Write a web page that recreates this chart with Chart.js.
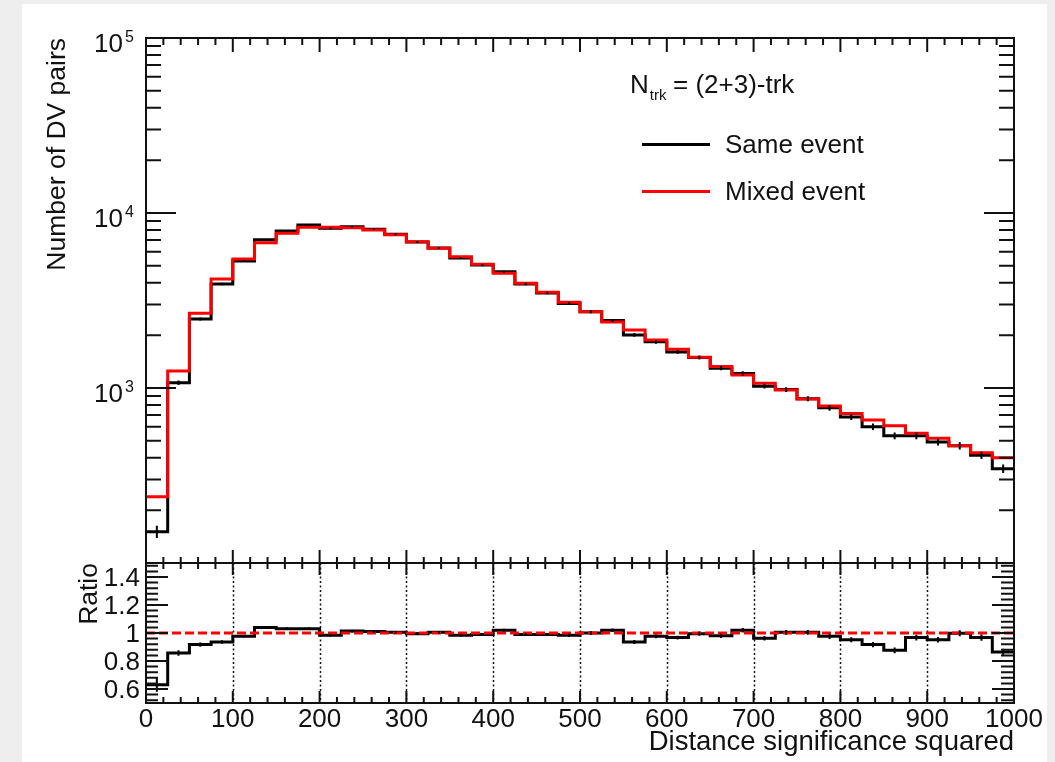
<!DOCTYPE html>
<html>
<head>
<meta charset="utf-8">
<script src="https://cdn.jsdelivr.net/npm/chart.js@4.4.0/dist/chart.umd.min.js"></script>
<style>
html,body{margin:0;padding:0;background:#eeeeee;width:1055px;height:762px;overflow:hidden;}
#paper{position:absolute;left:22px;top:4px;width:1025px;height:758px;background:#ffffff;}
canvas{position:absolute;left:0;}
#c1{top:0;}
#c2{top:540px;}
</style>
</head>
<body>
<div id="paper"></div>
<canvas id="c1" width="1055" height="600"></canvas>
<canvas id="c2" width="1055" height="222"></canvas>
<script>
// ---------------- data ----------------
const binEdges = [0,25,50,75,100,125,150,175,200,225,250,275,300,325,350,375,400,425,450,475,
                  500,525,550,575,600,625,650,675,700,725,750,775,800,825,850,875,900,925,950,975];
const xMax = 1000;
const sameEvent = [151,1072,2477,3930,5320,7025,7890,8530,8170,8350,8080,7550,6830,6310,5530,5040,4610,3930,3490,3040,
                   2730,2430,2010,1835,1608,1493,1298,1210,1024,980,869,770,682,601,533,533,491,467,413,346];
const mixedEvent = [239,1250,2673,4198,5458,6761,7656,8280,8300,8230,8000,7500,6860,6281,5624,5090,4522,3966,3526,3090,
                    2730,2383,2145,1880,1663,1500,1325,1186,1064,975,865,789,716,656,609,551,516,468,427,400];
const sameErr = [12,33,50,62,73,84,89,92,90,91,90,87,83,80,74,71,68,63,59,55,
                 52,49,45,43,40,39,36,35,32,31,29,28,26,25,23,23,22,22,20,19];
const ratio = [0.63,0.857,0.917,0.936,0.976,1.039,1.031,1.031,0.984,1.014,1.01,1.005,0.995,1.005,0.984,0.99,1.02,0.99,0.99,0.984,
               1.0,1.02,0.936,0.976,0.967,0.995,0.98,1.02,0.962,1.005,1.005,0.976,0.952,0.917,0.876,0.967,0.952,0.998,0.967,0.864];
const ratioErr = [0.05,0.02,0.015,0.012,0.01,0.01,0.01,0.01,0.01,0.01,0.01,0.01,0.01,0.01,0.01,0.01,0.01,0.01,0.01,0.012,
                  0.012,0.012,0.014,0.014,0.014,0.015,0.015,0.016,0.016,0.017,0.017,0.018,0.018,0.019,0.02,0.02,0.02,0.021,0.022,0.023];
const xTickLabels = [0,100,200,300,400,500,600,700,800,900,1000];
const logTickLabels = [1000,10000,100000];
const ratioTickLabels = [0.6,0.8,1,1.2,1.4];
const refLine = 1;
const legendTitle = {main:'N', sub:'trk', rest:'= (2+3)-trk'};
const seriesNames = ['Same event','Mixed event'];

// ---------------- helpers ----------------
const INK = '#111111';
const FONT = '"Liberation Sans", Arial, Helvetica, sans-serif';
function stepPoints(values){
  const pts = values.map((v,i)=>({x:binEdges[i], y:v}));
  pts.push({x:xMax, y:values[values.length-1]});
  return pts;
}
function errBars(chart, values, errs){
  const {ctx, scales:{x,y}} = chart;
  ctx.save(); ctx.strokeStyle='#000'; ctx.lineWidth=2; ctx.beginPath();
  values.forEach((v,i)=>{
    const c = binEdges[i] + (((i+1<binEdges.length)?binEdges[i+1]:xMax)-binEdges[i])/2;
    const px = x.getPixelForValue(c);
    ctx.moveTo(px, y.getPixelForValue(v-errs[i]));
    ctx.lineTo(px, y.getPixelForValue(v+errs[i]));
  });
  ctx.stroke(); ctx.restore();
}
function frame(ctx,a){
  ctx.save(); ctx.strokeStyle=INK; ctx.lineWidth=2;
  ctx.strokeRect(a.left,a.top,a.right-a.left,a.bottom-a.top); ctx.restore();
}

// ---------------- top panel ----------------
const topPlugin = {
  id:'topDeco',
  afterDatasetsDraw(chart){ errBars(chart, sameEvent, sameErr); },
  afterDraw(chart){
    const {ctx, chartArea:a, scales:{x,y}} = chart;
    frame(ctx,a);
    ctx.save(); ctx.strokeStyle=INK; ctx.lineWidth=2; ctx.beginPath();
    for(let v=0; v<=xMax; v+=20){
      const px = x.getPixelForValue(v), major = v%100===0;
      ctx.moveTo(px,a.top); ctx.lineTo(px,a.top+(major?14:7));
      ctx.moveTo(px,a.bottom); ctx.lineTo(px,a.bottom-(major?13:6));
    }
    for(const d of [100,1000,10000]){
      for(let m=1;m<10;m++){
        const py = y.getPixelForValue(m*d), L = m===1?30:15;
        ctx.moveTo(a.left,py); ctx.lineTo(a.left+L,py);
        ctx.moveTo(a.right,py); ctx.lineTo(a.right-L,py);
      }
    }
    const pt = y.getPixelForValue(100000);
    ctx.moveTo(a.left,pt); ctx.lineTo(a.left+30,pt);
    ctx.moveTo(a.right,pt); ctx.lineTo(a.right-30,pt);
    ctx.stroke();
    // y labels
    ctx.fillStyle=INK;
    logTickLabels.forEach(v=>{
      const py = y.getPixelForValue(v);
      ctx.font='26px '+FONT; ctx.textAlign='right'; ctx.textBaseline='alphabetic';
      ctx.fillText('10', 123, py+14);
      ctx.font='16px '+FONT; ctx.textAlign='left';
      ctx.fillText(String(Math.round(Math.log10(v))), 125, py+4);
    });
    // y title
    ctx.save(); ctx.translate(65,38); ctx.rotate(-Math.PI/2);
    ctx.font='26.5px '+FONT; ctx.textAlign='right'; ctx.textBaseline='alphabetic';
    ctx.fillText('Number of DV pairs',0,0); ctx.restore();
    // legend
    ctx.font='26px '+FONT; ctx.textAlign='left'; ctx.textBaseline='alphabetic';
    ctx.fillText(legendTitle.main, 630, 93);
    const nw = ctx.measureText(legendTitle.main).width;
    ctx.font='15px '+FONT; ctx.fillText(legendTitle.sub, 630+nw+1, 100);
    ctx.font='26px '+FONT; ctx.fillText(legendTitle.rest, 673, 93);
    ctx.lineWidth=3;
    ctx.strokeStyle='#000'; ctx.beginPath(); ctx.moveTo(642,144.5); ctx.lineTo(710,144.5); ctx.stroke();
    ctx.strokeStyle='#ff0000'; ctx.beginPath(); ctx.moveTo(642,191.5); ctx.lineTo(710,191.5); ctx.stroke();
    ctx.fillText(seriesNames[0], 725, 153);
    ctx.fillText(seriesNames[1], 725, 200);
    ctx.restore();
  }
};

new Chart(document.getElementById('c1'), {
  type:'line',
  data:{datasets:[
    {label:seriesNames[1], data:stepPoints(mixedEvent), stepped:'before', borderColor:'#ff0000', borderWidth:3,
     pointRadius:0, fill:false, order:0, borderJoinStyle:'miter'},
    {label:seriesNames[0], data:stepPoints(sameEvent), stepped:'before', borderColor:'#000000', borderWidth:3,
     pointRadius:0, fill:false, order:1, borderJoinStyle:'miter'}
  ]},
  options:{
    responsive:false, animation:false, events:[],
    layout:{padding:{left:146,right:41,top:38,bottom:37}},
    plugins:{legend:{display:false}, tooltip:{enabled:false}},
    scales:{
      x:{type:'linear', min:0, max:xMax, display:false},
      y:{type:'logarithmic', min:100, max:100000, display:false}
    }
  },
  plugins:[topPlugin]
});

// ---------------- ratio panel ----------------
const ratioPlugin = {
  id:'ratioDeco',
  beforeDatasetsDraw(chart){
    const {ctx, chartArea:a, scales:{x}} = chart;
    ctx.save(); ctx.strokeStyle='#111'; ctx.lineWidth=1.5; ctx.setLineDash([2,2.5]); ctx.beginPath();
    xTickLabels.slice(1,-1).forEach(v=>{
      const px = Math.round(x.getPixelForValue(v))+0.5;
      ctx.moveTo(px,a.top); ctx.lineTo(px,a.bottom);
    });
    ctx.stroke(); ctx.restore();
  },
  afterDatasetsDraw(chart){ errBars(chart, ratio, ratioErr); },
  afterDraw(chart){
    const {ctx, chartArea:a, scales:{x,y}} = chart;
    frame(ctx,a);
    ctx.save(); ctx.strokeStyle=INK; ctx.lineWidth=2; ctx.beginPath();
    for(let v=0; v<=xMax; v+=20){
      const px = x.getPixelForValue(v), major = v%100===0;
      ctx.moveTo(px,a.top); ctx.lineTo(px,a.top+(major?12:6));
      ctx.moveTo(px,a.bottom); ctx.lineTo(px,a.bottom-(major?12:6));
    }
    for(let i=13;i<=37;i++){
      const py = y.getPixelForValue(i*0.04), major = i%5===0;
      ctx.moveTo(a.left,py); ctx.lineTo(a.left+(major?22:12),py);
      ctx.moveTo(a.right,py); ctx.lineTo(a.right-(major?22:13),py);
    }
    ctx.stroke();
    ctx.fillStyle=INK; ctx.font='26px '+FONT;
    ctx.textAlign='right'; ctx.textBaseline='alphabetic';
    ratioTickLabels.forEach(v=>{ ctx.fillText(String(v), 140, y.getPixelForValue(v)+8.5); });
    ctx.textAlign='center';
    xTickLabels.forEach(v=>{ ctx.fillText(String(v), x.getPixelForValue(v), 187); });
    ctx.textAlign='right';
    ctx.font='27.5px '+FONT;
    ctx.fillText('Distance significance squared', a.right, 210);
    ctx.font='26.5px '+FONT;
    ctx.save(); ctx.translate(97, a.top); ctx.rotate(-Math.PI/2);
    ctx.textAlign='right'; ctx.fillText('Ratio',0,0); ctx.restore();
    ctx.restore();
  }
};

new Chart(document.getElementById('c2'), {
  type:'line',
  data:{datasets:[
    {label:'ref', data:[{x:0,y:refLine},{x:xMax,y:refLine}], borderColor:'#ff0000', borderWidth:3,
     borderDash:[9,4], pointRadius:0, fill:false, order:0},
    {label:'ratio', data:stepPoints(ratio), stepped:'before', borderColor:'#000000', borderWidth:3,
     pointRadius:0, fill:false, order:1, borderJoinStyle:'miter'}
  ]},
  options:{
    responsive:false, animation:false, events:[],
    layout:{padding:{left:146,right:41,top:23,bottom:59}},
    plugins:{legend:{display:false}, tooltip:{enabled:false}},
    scales:{
      x:{type:'linear', min:0, max:xMax, display:false},
      y:{type:'linear', min:0.5, max:1.5, display:false}
    }
  },
  plugins:[ratioPlugin]
});
</script>
</body>
</html>
